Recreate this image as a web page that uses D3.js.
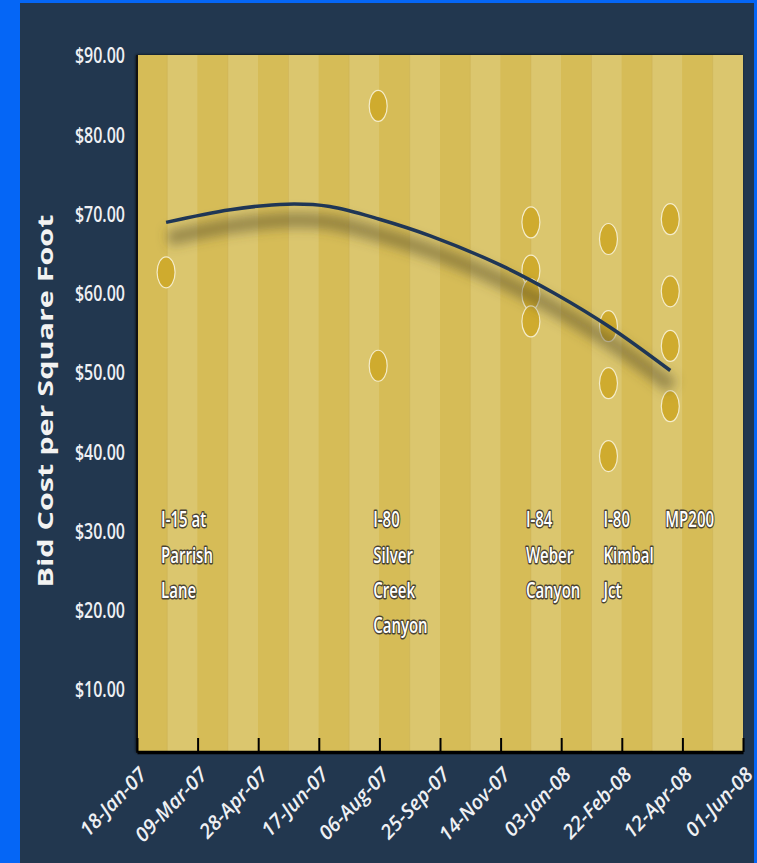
<!DOCTYPE html>
<html>
<head>
<meta charset="utf-8">
<script src="https://cdn.jsdelivr.net/npm/d3@7"></script>
<style>
  body { margin: 0; background: #0566f6; }
  svg { display: block; }
</style>
</head>
<body>
<div id="chart"></div>
<script>
// chart data
var tickDates = ["2007-01-18", "2007-03-09", "2007-04-28", "2007-06-17", "2007-08-06", "2007-09-25",
                 "2007-11-14", "2008-01-03", "2008-02-22", "2008-04-12", "2008-06-01"];
var yTicks = [10, 20, 30, 40, 50, 60, 70, 80, 90];

var siteDates = ["2007-02-11", "2007-08-05", "2007-12-09", "2008-02-11", "2008-04-02"];
var siteNames = [["I-15 at", "Parrish", "Lane"],
                 ["I-80", "Silver", "Creek", "Canyon"],
                 ["I-84", "Weber", "Canyon"],
                 ["I-80", "Kimbal", "Jct"],
                 ["MP200"]];
var bidCosts = [[62.7],
                [83.7, 50.9],
                [69.0, 62.9, 59.9, 56.5],
                [66.9, 55.9, 48.7, 39.5],
                [69.4, 60.3, 53.4, 45.8]];

// polynomial trendline
var trendDates = ["2007-02-11", "2007-04-05", "2007-05-22", "2007-06-26", "2007-08-06",
                  "2007-09-17", "2007-11-14", "2007-12-29", "2008-02-12", "2008-04-02"];
var trendValues = [69.0, 70.6, 71.3, 71.0, 69.4, 67.3, 63.6, 60.0, 55.8, 50.3];

var labelValue = 30.5; // where the site names sit

// layout
var WIDTH = 757, HEIGHT = 863;
var PLOT_LEFT = 137, PLOT_RIGHT = 743, PLOT_TOP = 55, PLOT_BOTTOM = 752;

var parse = d3.timeParse("%Y-%m-%d");
var fmt = d3.timeFormat("%d-%b-%y");

var svg = d3.select("#chart").append("svg")
    .attr("width", WIDTH)
    .attr("height", HEIGHT);

var defs = svg.append("defs");
defs.append("filter").attr("id", "plotShadow")
    .attr("x", "-5%").attr("y", "-5%").attr("width", "110%").attr("height", "110%")
    .append("feDropShadow")
    .attr("dx", -1).attr("dy", 0).attr("stdDeviation", 1.5)
    .attr("flood-color", "#000").attr("flood-opacity", 0.9);
defs.append("filter").attr("id", "lineShadow")
    .attr("x", "-20%").attr("y", "-50%").attr("width", "140%").attr("height", "200%")
    .append("feGaussianBlur").attr("stdDeviation", 6);

// navy panel
svg.append("rect")
    .attr("x", 20).attr("y", 3)
    .attr("width", 734).attr("height", HEIGHT - 3)
    .attr("fill", "#22374f");

var x = d3.scaleTime()
    .domain([parse(tickDates[0]), parse(tickDates[tickDates.length - 1])])
    .range([PLOT_LEFT, PLOT_RIGHT]);
var y = d3.scaleLinear()
    .domain([0, 90])
    .range([769, 56]);

// plot background with shadow
svg.append("rect")
    .attr("x", PLOT_LEFT).attr("y", PLOT_TOP)
    .attr("width", PLOT_RIGHT - PLOT_LEFT).attr("height", PLOT_BOTTOM - PLOT_TOP)
    .attr("fill", "#d6bc57")
    .attr("filter", "url(#plotShadow)");

// alternating stripes, half of each tick interval
var stripes = svg.append("g");
for (var i = 0; i < tickDates.length - 1; i++) {
    var d0 = parse(tickDates[i]);
    var d1 = parse(tickDates[i + 1]);
    var mid = d3.timeDay.offset(d0, 25);
    stripes.append("rect")
        .attr("x", x(d0)).attr("y", PLOT_TOP)
        .attr("width", x(mid) - x(d0)).attr("height", PLOT_BOTTOM - PLOT_TOP)
        .attr("fill", "#d6bc57");
    stripes.append("rect")
        .attr("x", x(mid)).attr("y", PLOT_TOP)
        .attr("width", x(d1) - x(mid)).attr("height", PLOT_BOTTOM - PLOT_TOP)
        .attr("fill", "#dbc66e");
    stripes.append("line")
        .attr("x1", x(mid)).attr("x2", x(mid))
        .attr("y1", PLOT_TOP).attr("y2", PLOT_BOTTOM)
        .attr("stroke", "#cdb257").attr("stroke-opacity", 0.5);
}

// y axis line
svg.append("line")
    .attr("x1", PLOT_LEFT).attr("x2", PLOT_LEFT)
    .attr("y1", PLOT_TOP).attr("y2", PLOT_BOTTOM + 1)
    .attr("stroke", "#111").attr("stroke-width", 2);

// x axis: ticks pointing into the plot
var xAxis = d3.axisBottom(x)
    .tickValues(tickDates.map(parse))
    .tickSizeInner(-14)
    .tickSizeOuter(0)
    .tickFormat("");
var gx = svg.append("g")
    .attr("transform", "translate(0," + PLOT_BOTTOM + ")")
    .call(xAxis);
gx.select(".domain").attr("stroke", "#000").attr("stroke-width", 3.5);
gx.selectAll(".tick line").attr("stroke", "#000").attr("stroke-width", 2);

// x tick labels
svg.append("g").selectAll("text")
    .data(tickDates)
    .join("text")
    .attr("transform", function(d) { return "translate(" + (x(parse(d)) + 6) + ",771) rotate(-46)"; })
    .attr("text-anchor", "end")
    .attr("dy", "0.35em")
    .attr("font-family", "'Open Sans', sans-serif")
    .attr("font-style", "italic")
    .attr("font-weight", 600)
    .attr("font-size", 20)
    .attr("fill", "#eef0f4")
    .text(function(d) { return fmt(parse(d)); });

// y tick labels
svg.append("g").selectAll("text")
    .data(yTicks)
    .join("text")
    .attr("transform", function(d) { return "translate(125," + (y(d) + 7.4) + ") scale(1,1.3)"; })
    .attr("text-anchor", "end")
    .attr("font-family", "'Open Sans', sans-serif")
    .attr("font-weight", 600)
    .attr("font-size", 16)
    .attr("fill", "#eef0f4")
    .text(function(d) { return "$" + d3.format(".2f")(d); });

// y axis title
svg.append("text")
    .attr("transform", "translate(53,401) rotate(-90)")
    .attr("text-anchor", "middle")
    .attr("font-family", "'Open Sans', sans-serif")
    .attr("font-weight", 700)
    .attr("font-size", 21)
    .attr("textLength", 373)
    .attr("lengthAdjust", "spacingAndGlyphs")
    .attr("fill", "#f2f2f2")
    .text("Bid Cost per Square Foot");

// bid points
var points = [];
siteDates.forEach(function(d, i) {
    bidCosts[i].forEach(function(v) { points.push({date: parse(d), value: v}); });
});
svg.append("g").selectAll("ellipse")
    .data(points)
    .join("ellipse")
    .attr("cx", function(d) { return x(d.date); })
    .attr("cy", function(d) { return y(d.value); })
    .attr("rx", 9)
    .attr("ry", 15.5)
    .attr("fill", "#cfab2e")
    .attr("stroke", "#f4ecca")
    .attr("stroke-width", 1.2);

// trendline and its shadow
var trend = trendDates.map(function(d, i) { return {date: parse(d), value: trendValues[i]}; });
var line = d3.line()
    .x(function(d) { return x(d.date); })
    .y(function(d) { return y(d.value); })
    .curve(d3.curveCatmullRom);

svg.append("path")
    .datum(trend)
    .attr("d", line)
    .attr("transform", "translate(2,16)")
    .attr("fill", "none")
    .attr("stroke", "#544a2c")
    .attr("stroke-opacity", 0.5)
    .attr("stroke-width", 15)
    .attr("filter", "url(#lineShadow)");
svg.append("path")
    .datum(trend)
    .attr("d", line)
    .attr("fill", "none")
    .attr("stroke", "#1f3656")
    .attr("stroke-width", 3.5);

// site name labels
var labels = svg.append("g");
siteDates.forEach(function(d, i) {
    siteNames[i].forEach(function(name, j) {
        labels.append("text")
            .attr("transform", "translate(" + (x(parse(d)) - 5) + "," + (y(labelValue) + j * 35.3) + ") scale(1,1.45)")
            .attr("font-family", "'Open Sans', sans-serif")
            .attr("font-weight", 600)
            .attr("font-size", 15)
            .attr("fill", "#ffffff")
            .attr("stroke", "#4a4333")
            .attr("stroke-width", 2)
            .attr("paint-order", "stroke")
            .attr("stroke-linejoin", "round")
            .text(name);
    });
});
</script>
</body>
</html>
